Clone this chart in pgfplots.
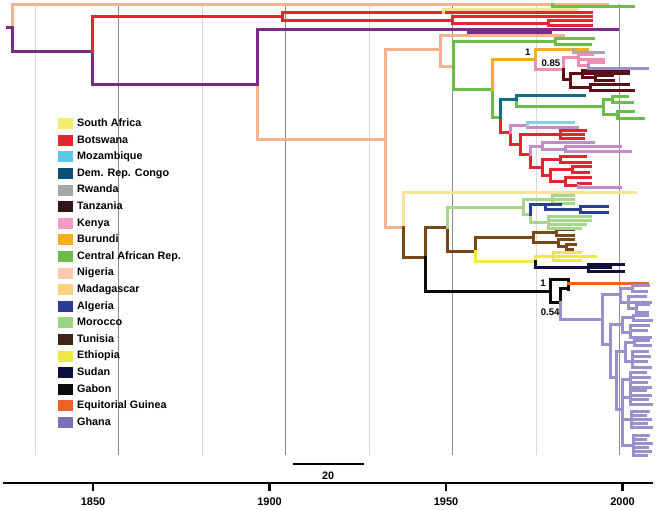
\documentclass[border=0pt]{standalone}
\usepackage{fontspec}
\setmainfont{Liberation Sans}
\usepackage{pgfplots}
\pgfplotsset{compat=1.18}
\definecolor{cSA}{HTML}{F2EB6E}
\definecolor{cBW}{HTML}{E4242F}
\definecolor{cMZ}{HTML}{5CC6E6}
\definecolor{cDRC}{HTML}{0C4E78}
\definecolor{cRW}{HTML}{A7A7A7}
\definecolor{cTZ}{HTML}{331416}
\definecolor{cKE}{HTML}{F29BC4}
\definecolor{cBU}{HTML}{F7AE1B}
\definecolor{cCAR}{HTML}{6CBD48}
\definecolor{cNG}{HTML}{F9C9AE}
\definecolor{cMG}{HTML}{FDD17F}
\definecolor{cDZ}{HTML}{2B3E97}
\definecolor{cMA}{HTML}{9ED585}
\definecolor{cTN}{HTML}{3D2414}
\definecolor{cET}{HTML}{EDEA45}
\definecolor{cSD}{HTML}{0F0F3D}
\definecolor{cGA}{HTML}{0A0A0A}
\definecolor{cGQ}{HTML}{EE6128}
\definecolor{cGH}{HTML}{7B70B5}
% tree colours
\definecolor{tPeach}{HTML}{F5B28E}
\definecolor{tPurple}{HTML}{7B2B87}
\definecolor{tMauve}{HTML}{C68AC6}
\definecolor{tPale}{HTML}{F5E39A}
\definecolor{tTeal}{HTML}{0F6F82}
\definecolor{tPink}{HTML}{F08DB3}
\definecolor{tMaroon}{HTML}{5A1015}
\definecolor{tBrown}{HTML}{7A4716}
\definecolor{tGhana}{HTML}{9A90CB}
\definecolor{tGreen}{HTML}{6CBD48}
\definecolor{tLGreen}{HTML}{A6D58B}
\definecolor{tLBlue}{HTML}{86D0E4}
\begin{document}
\begin{tikzpicture}
\begin{axis}[
  scale only axis, width=656pt, height=510pt,
  xmin=1823.65, xmax=2009.49, ymin=0, ymax=510, y dir=reverse,
  axis lines=none, clip=false,
  x filter/.expression={1850+(x-93)/3.53},
  tree/.style={line width=3.0pt, line join=miter, line cap=rect, mark=none, forget plot, empty line=jump},
  grid line/.style={line width=1pt, mark=none, forget plot, empty line=jump},
  legend style={draw=none, fill=none, at={(axis description cs:0.0884,0.7686)}, anchor=north west,
    font=\bfseries\fontsize{10.8}{12}\selectfont, row sep=5.6pt, inner sep=0pt,
    nodes={inner sep=0pt, text height=8pt, text depth=2.5pt},
    /tikz/every odd column/.append style={column sep=4pt}},
  legend cell align=left,
  legend image code/.code={\path[#1, draw=none] (0pt,-5.5pt) rectangle (15pt,5.5pt);},
]
\path (rel axis cs:0,0) rectangle (rel axis cs:1,1);
% grid lines
\addplot[grid line, color=black!15] table {
35 4
35 455

202 4
202 455

369 4
369 455

536 4
536 455
};
\addplot[grid line, color=black!45] table {
118.5 4
118.5 455

285.5 4
285.5 455

452.5 4
452.5 455

619.5 4
619.5 455
};
% ---- tree ----
\addplot[tree, color=tPeach] table {
12 28
12 5
607 5

257 85
257 140
385 140

385 50
385 228
403 228

385 50
440 50

440 36
440 67
453 67

440 36
563 36
};
\addplot[tree, color=tPurple] table {
7 28
12 28
12 52
92 52

92 52
92 85
257 85
257 30
617 30

468 30
468 33
550 33
};
\addplot[tree, color=cBW] table {
92 52
92 17
282 17

282 13
282 21

282 13
591 13

282 21
452 21

452 17
452 24

452 17
591 17

452 24
548 24

548 21
548 26

548 21
591 21

548 26
591 26

500 118
500 133
510 133

510 133
510 145
520 145

520 135
520 155

520 135
560 135

560 131
560 139

560 131
585 131

560 135
583 135

560 139
583 139

520 155
530 155
530 168
542 168

542 160
542 176

542 160
560 160

560 157
560 163

560 157
585 157

560 163
590 163

542 176
550 176

550 170
550 182

550 170
572 170

572 167
572 173

572 167
590 167

572 173
588 173

550 182
565 182

565 178
565 186

565 178
590 178

565 186
578 186
578 184
590 184
};
\addplot[tree, color=tPale] table {
443 13
443 10
577 10

403 228
403 193
635 193
};
\addplot[tree, color=tGreen] table {
552 5
552 7
633 7

453 42
453 90
492 90
492 118
500 118

453 42
555 42

555 39
555 45

555 39
593 39

555 45
590 45

516 100
516 107
603 107

603 100
603 115

603 100
612 100

612 97
612 103

612 97
627 97

612 103
632 103

603 115
617 115

617 112
617 119

617 112
633 112

617 119
643 119
};
\addplot[tree, color=cBU] table {
492 90
492 60
535 60
535 50
587 50
};
\addplot[tree, color=cRW] table {
573 50
573 53
603 53
};
\addplot[tree, color=tPink] table {
535 60
535 70
563 70
563 58
578 58

578 55
578 66

578 55
592 55

578 60
603 60

578 66
588 66
588 63
603 63
};
\addplot[tree, color=tMaroon] table {
563 70
563 80
570 80

570 74
570 88

570 74
582 74

582 71
582 78

582 71
628 71

582 74
628 74

582 78
595 78

595 76
595 81

595 76
612 76

595 81
613 81

570 88
590 88

590 85
590 91

590 85
628 85

590 91
633 91
};
\addplot[tree, color=tTeal] table {
500 118
500 100
516 100
516 96
584 96
};
\addplot[tree, color=tMauve] table {
510 133
510 126
527 126
527 128
577 128

530 155
530 147
542 147

542 143
542 150

542 143
593 143

542 150
565 150

565 147
565 152

565 147
620 147

565 152
630 152

578 186
578 188
620 188
};
\addplot[tree, color=tLBlue] table {
527 126
527 123
573 123
};
\addplot[tree, color=tBrown] table {
403 228
403 258
425 258

425 258
425 228
447 228

447 228
447 252
475 252

475 252
475 238
533 238

533 233
533 243

533 233
556 233

556 230
556 236

556 230
573 230

556 236
573 236

533 243
558 243

558 240
558 247

558 240
573 240

558 247
566 247

566 245
566 250

566 245
575 245

566 250
572 250
};
\addplot[tree, color=tLGreen] table {
447 228
447 208
523 208

523 200
523 215

523 200
552 200

552 196
552 204

552 196
573 196

552 200
573 200

552 204
573 204

523 215
530 215
530 223
548 223

548 217
548 229

548 217
590 217

548 221
590 221

548 225
585 225

548 229
580 229
};
\addplot[tree, color=cDZ] table {
530 215
530 205
560 205

545 205
545 210
580 210

580 207
580 213

580 207
607 207

580 213
607 213
};
\addplot[tree, color=cET] table {
475 252
475 262
535 262

535 262
535 257
553 257

553 253
553 261

553 253
580 253

553 257
595 257

553 261
580 261
};
\addplot[tree, color=cSD] table {
535 262
535 268
588 268

588 265
588 272

588 265
623 265

588 268
610 268

588 272
623 272
};
\addplot[tree, color=cGA] table {
425 258
425 292
550 292

550 280
550 303

550 280
568 280
568 290

550 303
560 303
560 289
568 289
};
\addplot[tree, color=cGQ] table {
568 284
647 284
};
\addplot[tree, color=tGhana] table {
588 66
588 69
647 69

560 303
560 320
602 320

602 295
602 345

602 295
620 295

620 289
620 303

620 289
632 289

632 286
632 292

632 286
648 286

632 292
646 292

620 303
628 303

628 297
628 309

628 297
645 297

628 303
650 303

628 309
636 309

636 305
636 313

636 305
648 305

636 313
647 313

602 345
610 345

610 325
610 378

610 325
622 325

622 318
622 333

622 318
633 318

633 316
633 321

633 316
647 316

633 321
651 321

622 333
630 333

630 326
630 338

630 326
648 326

630 331
646 331

630 338
650 338

610 378
616 378

616 352
616 410

616 352
625 352

625 343
625 362

625 343
634 343

634 341
634 346

634 341
648 341

634 346
650 346

625 362
632 362

632 352
632 368

632 352
647 352

632 357
649 357

632 362
646 362

632 368
650 368

616 410
622 410

622 380
622 445

622 380
630 380

630 373
630 388

630 373
645 373

630 378
649 378

630 383
646 383

630 388
650 388

622 398
630 398

630 391
630 405

630 391
645 391

630 396
650 396

630 400
647 400

630 405
651 405

622 420
631 420

631 412
631 428

631 412
648 412

631 416
645 416

631 420
650 420

631 424
646 424

631 428
651 428

622 445
633 445

633 435
633 455

633 435
648 435

633 439
645 439

633 443
651 443

633 447
647 447

633 451
650 451

633 455
646 455
};
% ---- time axis and scale bar ----
\addplot[line width=2.8pt, color=black, mark=none, forget plot, empty line=jump] table {
3 483
653 483

93 483
93 491

269.5 483
269.5 491

446 483
446 491

622.5 483
622.5 491
};
\addplot[line width=2.8pt, color=black, mark=none, forget plot] table {
293 464
363.6 464
};
\node[font=\bfseries\fontsize{11}{13}\selectfont] at (axis cs:1850,502) {1850};
\node[font=\bfseries\fontsize{11}{13}\selectfont] at (axis cs:1900,502) {1900};
\node[font=\bfseries\fontsize{11}{13}\selectfont] at (axis cs:1950,502) {1950};
\node[font=\bfseries\fontsize{11}{13}\selectfont] at (axis cs:2000,502) {2000};
\node[font=\bfseries\fontsize{10.8}{13}\selectfont] at (axis cs:1916.6,476) {20};
% support values
\node[font=\bfseries\fontsize{9.6}{11}\selectfont] at (axis cs:1973.2,52) {1};
\node[font=\bfseries\fontsize{9.6}{11}\selectfont] at (axis cs:1979.7,63) {0.85};
\node[font=\bfseries\fontsize{9.6}{11}\selectfont] at (axis cs:1977.5,283) {1};
\node[font=\bfseries\fontsize{9.6}{11}\selectfont] at (axis cs:1979.5,312) {0.54};
% ---- legend ----
\addlegendimage{fill=cSA}\addlegendentry{South Africa}
\addlegendimage{fill=cBW}\addlegendentry{Botswana}
\addlegendimage{fill=cMZ}\addlegendentry{Mozambique}
\addlegendimage{fill=cDRC}\addlegendentry{Dem. Rep. Congo}
\addlegendimage{fill=cRW}\addlegendentry{Rwanda}
\addlegendimage{fill=cTZ}\addlegendentry{Tanzania}
\addlegendimage{fill=cKE}\addlegendentry{Kenya}
\addlegendimage{fill=cBU}\addlegendentry{Burundi}
\addlegendimage{fill=cCAR}\addlegendentry{Central African Rep.}
\addlegendimage{fill=cNG}\addlegendentry{Nigeria}
\addlegendimage{fill=cMG}\addlegendentry{Madagascar}
\addlegendimage{fill=cDZ}\addlegendentry{Algeria}
\addlegendimage{fill=cMA}\addlegendentry{Morocco}
\addlegendimage{fill=cTN}\addlegendentry{Tunisia}
\addlegendimage{fill=cET}\addlegendentry{Ethiopia}
\addlegendimage{fill=cSD}\addlegendentry{Sudan}
\addlegendimage{fill=cGA}\addlegendentry{Gabon}
\addlegendimage{fill=cGQ}\addlegendentry{Equitorial Guinea}
\addlegendimage{fill=cGH}\addlegendentry{Ghana}
\end{axis}
\end{tikzpicture}
\end{document}
